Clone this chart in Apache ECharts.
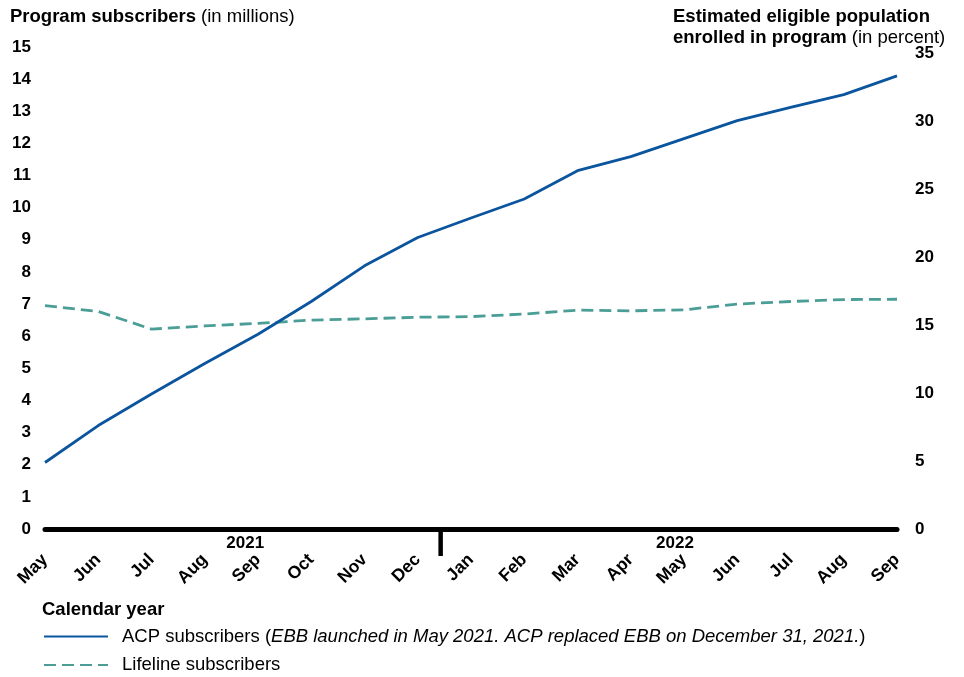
<!DOCTYPE html>
<html>
<head>
<meta charset="utf-8">
<script src="https://cdn.jsdelivr.net/npm/echarts@6/dist/echarts.min.js"></script>
<style>
html,body{margin:0;padding:0;background:#fff;}
#main{width:964px;height:677px;}
</style>
</head>
<body>
<div id="main"></div>
<script>
const months = ['May','Jun','Jul','Aug','Sep','Oct','Nov','Dec','Jan','Feb','Mar','Apr','May','Jun','Jul','Aug','Sep'];
const acpSubscribers = [2.07, 3.22, 4.2, 5.15, 6.06, 7.08, 8.19, 9.07, 9.68, 10.27, 11.15, 11.59, 12.15, 12.71, 13.12, 13.52, 14.1];
const lifelineSubscribers = [6.95, 6.77, 6.22, 6.32, 6.4, 6.5, 6.54, 6.59, 6.61, 6.69, 6.81, 6.79, 6.82, 7.0, 7.08, 7.14, 7.15];
const leftTicks = {min: 0, max: 15, interval: 1};
const rightTicks = {min: 0, max: 35.5, interval: 5};
const yearLabels = [{text: '2021', pos: 3.76}, {text: '2022', pos: 11.83}];
const yearDividerPos = 7.43;

const FONT = '"Liberation Sans", Arial, sans-serif';
const BLUE = '#0b559e';
const TEAL = '#4a9e96';

const chart = echarts.init(document.getElementById('main'), null, {renderer: 'canvas'});
chart.setOption({
  animation: false,
  backgroundColor: '#fff',
  textStyle: {fontFamily: FONT, color: '#000'},
  title: [
    {
      left: 10, top: 7, padding: 0,
      text: '{b|Program subscribers} {n|(in millions)}',
      textStyle: {
        rich: {
          b: {fontFamily: FONT, fontWeight: 'bold', fontSize: 18.5, color: '#000'},
          n: {fontFamily: FONT, fontWeight: 'normal', fontSize: 18.5, color: '#000'}
        }
      }
    },
    {
      left: 673, top: 6, padding: 0,
      text: '{b|Estimated eligible population}\n{b|enrolled in program} {n|(in percent)}',
      textStyle: {
        rich: {
          b: {fontFamily: FONT, fontWeight: 'bold', fontSize: 18.5, color: '#000', lineHeight: 21},
          n: {fontFamily: FONT, fontWeight: 'normal', fontSize: 18.5, color: '#000', lineHeight: 21}
        }
      }
    },
    {
      left: 42, top: 600, padding: 0,
      text: 'Calendar year',
      textStyle: {fontFamily: FONT, fontWeight: 'bold', fontSize: 18.5, color: '#000'}
    }
  ],
  grid: {left: 45, right: 67, top: 47, bottom: 148, containLabel: false},
  xAxis: {
    type: 'category',
    data: months,
    boundaryGap: false,
    axisLine: {show: true, lineStyle: {color: '#000', width: 5}},
    axisTick: {show: false},
    splitLine: {show: false},
    axisLabel: {
      rotate: 45, margin: 28, interval: 0,
      fontFamily: FONT, fontWeight: 'bold', fontSize: 17.5, color: '#000'
    }
  },
  yAxis: [
    {
      type: 'value', position: 'left',
      min: leftTicks.min, max: leftTicks.max, interval: leftTicks.interval,
      axisLine: {show: false}, axisTick: {show: false}, splitLine: {show: false},
      axisLabel: {margin: 14, fontFamily: FONT, fontWeight: 'bold', fontSize: 17, color: '#000'}
    },
    {
      type: 'value', position: 'right',
      min: rightTicks.min, max: rightTicks.max, interval: rightTicks.interval,
      axisLine: {show: false}, axisTick: {show: false}, splitLine: {show: false},
      axisLabel: {
        margin: 18, fontFamily: FONT, fontWeight: 'bold', fontSize: 17, color: '#000',
        formatter: function (v) { return (v % 5 === 0) ? String(v) : ''; }
      }
    }
  ],
  legend: {
    orient: 'vertical',
    left: 43, top: 627, padding: 0,
    itemWidth: 64, itemHeight: 14, itemGap: 9.5,
    selectedMode: false,
    itemStyle: {opacity: 0},
    textStyle: {
      fontFamily: FONT, fontSize: 18.5, color: '#000', padding: [0, 0, 0, 9],
      rich: {
        i: {fontFamily: FONT, fontSize: 18.5, fontStyle: 'italic', color: '#000', lineHeight: 20},
        r: {fontFamily: FONT, fontSize: 18.5, color: '#000', lineHeight: 20}
      }
    },
    formatter: function (name) {
      if (name === 'ACP') {
        return '{r|ACP subscribers (}{i|EBB launched in May 2021. ACP replaced EBB on December 31, 2021.}{r|)}';
      }
      return '{r|Lifeline subscribers}';
    },
    data: ['ACP', 'Lifeline']
  },
  series: [
    {
      name: 'ACP', type: 'line', yAxisIndex: 0,
      data: acpSubscribers,
      symbol: 'none', showSymbol: false,
      lineStyle: {color: BLUE, width: 2.8},
      itemStyle: {color: BLUE},
      z: 3
    },
    {
      name: 'Lifeline', type: 'line', yAxisIndex: 0,
      data: lifelineSubscribers,
      symbol: 'none', showSymbol: false,
      lineStyle: {color: TEAL, width: 2.8, type: [12, 6]},
      itemStyle: {color: TEAL},
      z: 2
    }
  ]
});

const x0 = chart.convertToPixel({xAxisIndex: 0}, 0);
const x1 = chart.convertToPixel({xAxisIndex: 0}, months.length - 1);
const yZero = chart.convertToPixel({yAxisIndex: 0}, 0);
function xAt(pos) { return x0 + (x1 - x0) * pos / (months.length - 1); }

const graphics = [];
graphics.push({
  type: 'line', z: 10,
  shape: {x1: xAt(yearDividerPos), y1: yZero, x2: xAt(yearDividerPos), y2: yZero + 27},
  style: {stroke: '#000', lineWidth: 4.5}
});
yearLabels.forEach(function (yl) {
  graphics.push({
    type: 'text', z: 10,
    x: xAt(yl.pos), y: yZero + 14,
    style: {text: yl.text, fill: '#000', font: 'bold 17px ' + FONT, textAlign: 'center', textVerticalAlign: 'middle'}
  });
});
chart.setOption({graphic: graphics});
</script>
</body>
</html>
